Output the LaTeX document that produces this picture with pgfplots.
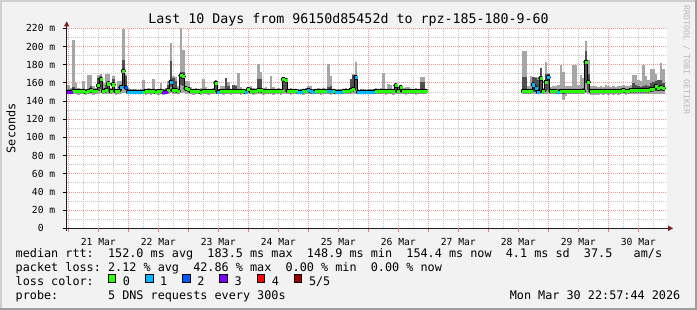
\documentclass[border=0pt]{standalone}
\usepackage{pgfplots}
\pgfplotsset{compat=1.18}
\usepackage{pgfplotstable}
\usepackage{fontspec}
\usetikzlibrary{arrows.meta}
\setmainfont{DejaVu Sans Mono}
\newfontfamily\mono{DejaVu Sans Mono}
\newcommand\titlefont{\mono\fontsize{13.3bp}{15bp}\selectfont}
\newcommand\legfont{\mono\fontsize{11.8bp}{14bp}\selectfont}
\newcommand\axfont{\mono\fontsize{9.7bp}{11bp}\selectfont}
\newcommand\wmfont{\mono\fontsize{8.3bp}{10bp}\selectfont}
\definecolor{backc}{HTML}{F2F2F2}
\definecolor{shadea}{HTML}{CFCFCF}
\definecolor{shadeb}{HTML}{9E9E9E}
\definecolor{gridc}{HTML}{C8C8C8}
\definecolor{mgridc}{HTML}{EE9A9A}
\definecolor{arrowc}{HTML}{7F1F1F}
\definecolor{axisc}{HTML}{1F1F1F}
\definecolor{smokelight}{HTML}{A6A6A6}
\definecolor{smokedark}{HTML}{505050}
\definecolor{lossA}{HTML}{26FF00}
\definecolor{lossB}{HTML}{00B8FF}
\definecolor{lossC}{HTML}{0059FF}
\definecolor{lossD}{HTML}{7E00FF}
\definecolor{lossE}{HTML}{FF0000}
\definecolor{lossF}{HTML}{A10000}
\definecolor{wmc}{HTML}{B8B8B8}

% h = hours since 21 Mar 00:00; values in ms (min, 2nd, median, 4th, max of 5 pings)
\pgfplotstableread{
h lo q1 med q3 hi
0 148 149 150 151 158
1 148 149 150 150.5 154
2 148 149.5 151 155 207
3 148 149.5 151 152 160
4 147 148.5 151 151.5 154
5 148 149.5 151 151.5 153
6 148 149.5 151 151.5 162
7 147 148.5 150 150.5 153
8 148 149.5 151 153 169
9 148 150 152 156 169
10 147 148.5 151 151.5 156
11 148 149.5 151 151.5 154
12 148 151 157 165 169
13 149 153 164 167 170
14 148 149.5 151 153 160
15 148 150 152 158 170
16 148 152 159 162 170
17 148 149.5 151 151.5 154
18 148 150 158 164 168
19 147 148.5 151 151.5 153
20 148 149.5 151 152 162
21 148 151 155 158 162
22 149 156 173 185 219
23 149 152 155 168 170
24 148 149 150 150.5 154
25 148 149 150 150.5 153
26 148 149 150 150.5 153
27 148 149 150 150.5 153
28 148 149 150 150.5 152
29 148 149 150 150.5 153
30 148 149 150 152 163
31 147 148.5 151 151.5 153
32 148 149.5 151 151.5 154
33 147 148.5 151 151.5 153
34 148 149.5 151 152 164
35 148 149 150 150.5 153
36 147 148.5 151 151.5 153
37 148 149.5 151 151.5 160
38 147 148.5 150 150.5 153
39 148 149 150 151 154
40 148 150 152 158 162
41 149 155 161 184 204
42 148 151 152 165 167
43 148 150 152 162 166
44 148 149.5 151 153 157
45 149 158 168 172 220
46 149 156 167 172 196
47 148 151 154 156 162
48 148 150 153 155 162
49 148 149.5 151 151.5 155
50 147 148.5 151 151.5 153
51 148 149.5 151 151.5 154
52 148 149.5 151 151.5 153
53 147 148.5 150 151 154
54 148 149.5 151 153 164
55 148 149.5 151 151.5 155
56 147 148.5 151 151.5 153
57 148 149.5 151 151.5 153
58 148 149.5 151 151.5 154
59 148 152 160 162 163
60 148 149 150 150.5 153
61 148 149.5 151 151.5 156
62 147 148.5 151 151.5 156
63 148 149.5 151 165 165
64 148 149.5 151 156 161
65 147 148.5 151 151.5 153
66 148 149.5 151 158 158
67 148 149.5 151 156 158
68 148 149.5 151 153 171
69 147 148.5 151 151.5 155
70 148 149.5 151 151.5 153
71 148 149 150 150.5 153
72 148 150 153 154 154
73 148 149.5 151 154 156
74 147 148.5 151 151.5 154
75 148 149.5 151 151.5 153
76 148 151 152 164 181
77 148 150 152 164 172
78 147 148.5 151 151.5 154
79 148 149.5 151 151.5 155
80 148 149.5 151 151.5 153
81 148 149.5 151 153 167
82 147 148.5 151 151.5 155
83 148 149.5 151 151.5 153
84 148 149.5 151 151.5 154
85 147 148.5 151 151.5 153
86 148 152 164 164 164
87 148 150 163 164 164
88 148 149.5 151 151.5 153
89 147 148.5 151 151.5 154
90 148 149.5 151 151.5 153
91 148 149.5 151 151.5 153
92 148 149 150 150.5 153
93 148 149 150 150.5 153
94 147 148.5 151 151.5 153
95 148 149.5 151 151.5 154
96 148 150 152 154 157
97 148 149.5 151 153 156
98 148 149 150 150.5 153
99 148 149.5 151 151.5 153
100 148 149.5 151 153 154
101 147 148.5 151 151.5 153
102 148 149.5 151 151.5 154
103 148 149.5 151 151.5 153
104 148 150 151 155 181
105 147 149 151 157 167
106 148 149.5 151 151.5 153
107 148 149 150 150.5 153
108 148 149 150 150.5 153
109 148 149 150 150.5 152
110 148 149.5 151 151.5 153
111 148 149.5 151 153 154
112 148 149.5 151 151.5 153
113 148 151 152 164 164
114 148 152 153 169 170
115 148 153 166 169 183
116 148 149 150 150.5 152
117 148 149 150 150.5 153
118 148 149 150 150.5 153
119 148 149 150 150.5 152
120 148 149 150 150.5 153
121 148 149 150 151 153
122 148 149 150 150.5 153
123 148 149.5 151 151.5 154
124 148 149.5 151 151.5 153
125 148 149.5 151 151.5 154
126 148 149.5 151 153 171
127 147 148.5 151 151.5 153
128 148 149.5 151 151.5 159
129 148 149.5 151 153 158
130 147 148.5 151 151.5 153
131 148 150 157 158 158
132 148 149.5 151 151.5 155
133 148 150 155 155 155
134 148 149.5 151 151.5 154
135 147 148.5 151 151.5 155
136 148 149.5 151 151.5 155
137 148 149.5 151 151.5 153
138 148 149.5 151 151.5 153
139 147 148.5 151 151.5 154
140 148 149.5 151 151.5 153
141 148 150 151 161 166
142 148 149.5 151 161 166
143 148 149.5 151 151.5 153
}\segA

\pgfplotstableread{
h lo q1 med q3 hi
182 148 150 151 166 195
183 148 150 151 166 195
184 148 149.5 151 151.5 157
185 148 149.5 151 153 167
186 148 150 158 166 166
187 148 150 154 165 166
188 148 149 150 163 166
189 148 151 165 176 176
190 148 149.5 151 151.5 154
191 148 151 161 170 183
192 148 152 166 170 171
193 148 149.5 151 151.5 155
194 148 149.5 151 152 157
195 148 149.5 151 151.5 156
196 148 149 150 152 158
197 148 149.5 151 153 180
198 141 148 151 153 172
199 145 149 151 152 157
200 148 149.5 151 152 157
201 148 149.5 151 153 156
202 148 149.5 151 153 180
203 148 149.5 151 153 180
204 148 149.5 151 152 158
205 148 149.5 151 153 169
206 148 150 151 154 165
207 149 160 183 195 206
208 148 152 161 170 185
209 147 148.5 151 152 156
210 147 148.5 151 153 157
211 147 148.5 151 152 156
212 147 148.5 151 153 155
213 148 149.5 151 152 156
214 147 148.5 151 153 155
215 148 149.5 151 152 158
216 147 148.5 151 153 156
217 148 149.5 151 152 155
218 147 148.5 151 153 157
219 148 149.5 151 152 155
220 147 148.5 151 153 156
221 148 149.5 151 152 156
222 148 149.5 152 153 158
223 147 148.5 151 153 156
224 148 149.5 151 153 157
225 148 150 152 154 158
226 148 150 152 160 169
227 148 150 152 158 169
228 148 150 152 156 163
229 148 150 152 155 162
230 148 150 152 157 180
231 148 150 152 158 167
232 148 150 152 157 163
233 148 150 153 160 175
234 148 151 153 161 175
235 148 151 156 162 170
236 148 151 154 163 163
237 148 151 155 163 182
238 148 151 154 160 175
}\segB

% medians of the samples that lost 1, 2 or 3 of the 5 pings
\pgfplotstableread{
h med
21 155
24 150
25 150
26 150
27 150
28 150
29 150
41 161
60 150
71 150
92 150
93 150
96 152
97 151
98 150
104 151
105 151
107 150
108 150
109 150
115 166
116 150
117 150
118 150
119 150
120 150
121 150
122 150
186 158
187 154
188 150
192 166
196 150
}\lossone
\pgfplotstableread{
h med
23 155
}\losstwo
\pgfplotstableread{
h med
0 150
1 150
38 150
39 150
}\lossthree

\pgfplotsset{
  smokeL/.style={only marks, mark=none, forget plot,
    error bars/.cd, y dir=both, y explicit, error mark=none,
    error bar style={line width=2.5bp, draw=smokelight}},
  smokeD/.style={only marks, mark=none, forget plot,
    error bars/.cd, y dir=both, y explicit, error mark=none,
    error bar style={line width=2.5bp, draw=smokedark}},
  medline/.style={draw=black, line width=0.8bp, const plot mark mid, mark=none, forget plot},
  lossmk/.style={only marks, forget plot, color=#1, mark=square*, mark size=1.1bp,
    mark options={solid, draw=#1, fill=#1, line width=0.4bp}},
}

\begin{document}
\frenchspacing
\begin{tikzpicture}
\useasboundingbox (0,0) rectangle (697bp,310bp);
\fill[backc] (0,0) rectangle (697bp,310bp);
\fill[shadea] (0,308bp) rectangle (697bp,310bp);
\fill[shadea] (0,0) rectangle (2bp,310bp);
\fill[shadeb] (0,0) rectangle (697bp,2bp);
\fill[shadeb] (695bp,0) rectangle (697bp,310bp);

\begin{axis}[
  at={(66.7bp,81.7bp)}, anchor=south west,
  scale only axis, width=600bp, height=200bp,
  xmin=-0.64, xmax=239.36, ymin=0, ymax=220,
  enlargelimits=false,
  axis background/.style={fill=white},
  axis x line=bottom, axis y line=left,
  x axis line style={draw=axisc, line width=1bp, -{Triangle[length=5bp,width=5bp,color=arrowc]}, shorten >=-6.5bp},
  y axis line style={draw=axisc, line width=1bp, -{Triangle[length=5bp,width=5bp,color=arrowc]}, shorten >=-7bp, shorten <=-3bp},
  xtick={0,24,48,72,96,120,144,168,192,216},
  xticklabels={},
  minor xtick={6,12,18,30,36,42,54,60,66,78,84,90,102,108,114,126,132,138,150,156,162,174,180,186,198,204,210,222,228,234},
  extra x ticks={12,36,60,84,108,132,156,180,204,228},
  extra x tick labels={21 Mar,22 Mar,23 Mar,24 Mar,25 Mar,26 Mar,27 Mar,28 Mar,29 Mar,30 Mar},
  extra x tick style={grid=none, tick style={draw=none}},
  ytick={0,20,40,60,80,100,120,140,160,180,200,220},
  yticklabels={0\phantom{~m},20~m,40~m,60~m,80~m,100~m,120~m,140~m,160~m,180~m,200~m,220~m},
  minor ytick={10,30,50,70,90,110,130,150,170,190,210},
  grid=both,
  major grid style={draw=mgridc, dash pattern=on 1bp off 1bp, line width=0.8bp},
  minor grid style={draw=gridc, dash pattern=on 1bp off 1bp, line width=0.8bp},
  tick align=outside, major tick length=4bp, minor tick length=0pt,
  xtick style={draw=mgridc!80!red, line width=0.8bp},
  ytick style={draw=black, line width=0.8bp},
  xticklabel style={font=\axfont, anchor=base, inner sep=0pt, yshift=-13.2bp},
  yticklabel style={font=\axfont, anchor=east, inner sep=0pt, xshift=-7.2bp},
]
\addplot[smokeL] table[x=h, y=med, y error plus expr=\thisrow{hi}-\thisrow{med}, y error minus expr=\thisrow{med}-\thisrow{lo}] {\segA};
\addplot[smokeL] table[x=h, y=med, y error plus expr=\thisrow{hi}-\thisrow{med}, y error minus expr=\thisrow{med}-\thisrow{lo}] {\segB};
\addplot[smokeD] table[x=h, y=med, y error plus expr=\thisrow{q3}-\thisrow{med}, y error minus expr=\thisrow{med}-\thisrow{q1}] {\segA};
\addplot[smokeD] table[x=h, y=med, y error plus expr=\thisrow{q3}-\thisrow{med}, y error minus expr=\thisrow{med}-\thisrow{q1}] {\segB};
\addplot[medline] table[x=h, y=med] {\segA};
\addplot[medline] table[x=h, y=med] {\segB};
\addplot[lossmk=lossA] table[x=h, y=med] {\segA};
\addplot[lossmk=lossA] table[x=h, y=med] {\segB};
\addplot[lossmk=lossB] table[x=h, y=med] {\lossone};
\addplot[lossmk=lossC] table[x=h, y=med] {\losstwo};
\addplot[lossmk=lossD] table[x=h, y=med] {\lossthree};
\end{axis}

% title, unit, watermark
\node[anchor=base, inner sep=0pt, font=\titlefont] at (348.5bp,286bp) {Last~10~Days~from~96150d85452d~to~rpz-185-180-9-60};
\node[rotate=90, inner sep=0pt, font=\legfont] at (11bp,181.7bp) {Seconds};
\node[rotate=-90, inner sep=0pt, font=\wmfont, text=wmc] at (686.5bp,250bp) {RRDTOOL~/~TOBI~OETIKER};

% legend
\node[anchor=base west, inner sep=0pt, font=\legfont] at (15.5bp,52.3bp) {median~rtt:~~152.0~ms~avg~~183.5~ms~max~~148.9~ms~min~~154.4~ms~now~~4.1~ms~sd~~37.5~~~am/s};
\node[anchor=base west, inner sep=0pt, font=\legfont] at (15.5bp,38.3bp) {packet~loss:~2.12~\%~avg~~42.86~\%~max~~0.00~\%~min~~0.00~\%~now};
\node[anchor=base west, inner sep=0pt, font=\legfont] at (15.5bp,24.3bp) {loss~color:};
\foreach \bx/\col/\lab in {108/lossA/0, 145.3/lossB/1, 182.5/lossC/2, 219.7/lossD/3, 257/lossE/4, 294.2/lossF/{5/5}}{
  \filldraw[fill=\col, draw=black, line width=0.8bp] (\bx bp,27.5bp) rectangle ++(7.6bp,7.6bp);
  \node[anchor=base west, inner sep=0pt, font=\legfont] at ({\bx bp+14.6bp},24.3bp) {\lab};
}
\node[anchor=base west, inner sep=0pt, font=\legfont] at (15.5bp,10.3bp) {probe:~~~~~~~5~DNS~requests~every~300s};
\node[anchor=base east, inner sep=0pt, font=\legfont] at (680.5bp,10.3bp) {Mon~Mar~30~22:57:44~2026};
\end{tikzpicture}
\end{document}
